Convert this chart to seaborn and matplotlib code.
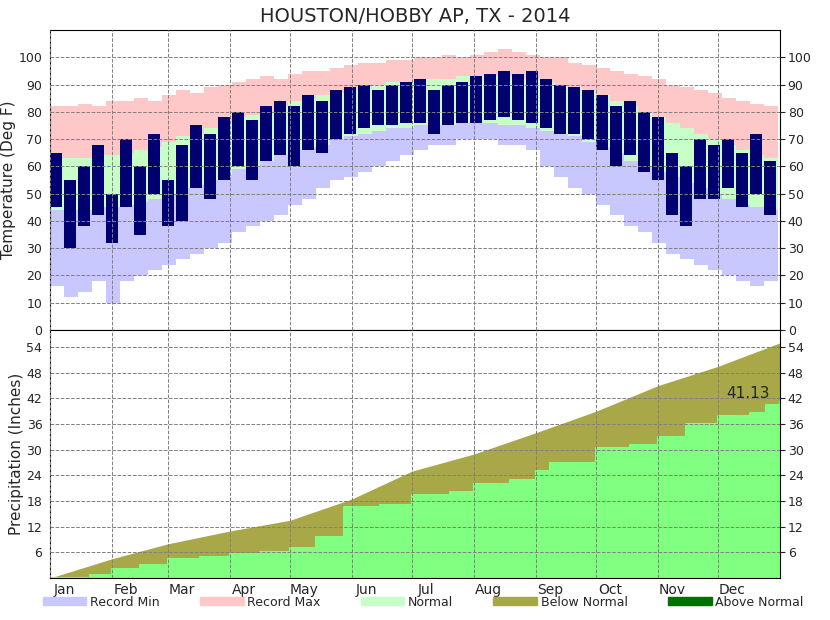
import numpy as np
import seaborn as sns
import matplotlib.pyplot as plt
from matplotlib.patches import Patch

# weekly values (deg F)
weeks = np.arange(52) * 7
rec_max = [82, 82, 83, 82, 84, 84, 85, 84, 86, 88, 87, 89, 90, 91, 92, 93, 92, 94, 95, 95, 96, 97,
           98, 98, 99, 99, 100, 100, 101, 100, 101, 102, 103, 102, 101, 100, 100, 98, 97, 96, 95, 94,
           93, 92, 90, 89, 88, 87, 85, 84, 83, 82]
rec_min = [16, 12, 14, 18, 10, 18, 20, 22, 24, 26, 28, 30, 32, 36, 38, 40, 42, 46, 48, 52, 55, 56,
           58, 60, 62, 64, 66, 68, 68, 70, 70, 70, 68, 68, 66, 60, 56, 52, 50, 46, 42, 38,
           36, 32, 28, 26, 24, 22, 20, 18, 16, 18]
norm_hi = [63, 63, 63, 64, 64, 65, 66, 67, 69, 71, 72, 74, 76, 78, 79, 80, 82, 84, 85, 86, 87, 88,
           89, 90, 91, 91, 92, 92, 92, 93, 93, 93, 93, 92, 92, 91, 90, 89, 88, 86, 84, 82,
           80, 78, 76, 74, 72, 70, 68, 66, 64, 63]
norm_lo = [44, 44, 44, 45, 45, 46, 47, 48, 50, 52, 53, 55, 57, 59, 60, 62, 64, 66, 67, 68, 70, 71,
           72, 73, 74, 74, 75, 75, 75, 76, 76, 76, 75, 75, 74, 73, 72, 71, 69, 67, 65, 62,
           60, 58, 56, 54, 52, 50, 48, 46, 45, 44]
act_hi = [65, 55, 60, 68, 50, 70, 60, 72, 55, 68, 75, 72, 78, 80, 77, 82, 84, 82, 86, 84, 88, 89,
          90, 88, 90, 91, 92, 88, 90, 91, 93, 94, 95, 94, 95, 92, 90, 89, 88, 86, 82, 84, 80,
          78, 65, 60, 70, 68, 70, 65, 72, 62]
act_lo = [45, 30, 38, 42, 32, 45, 35, 50, 38, 40, 52, 48, 55, 60, 55, 62, 64, 60, 66, 65, 70, 72,
          74, 75, 75, 76, 76, 72, 75, 76, 76, 77, 78, 77, 76, 74, 72, 72, 70, 66, 60, 64, 58,
          55, 42, 38, 48, 48, 52, 45, 50, 42]

# cumulative precipitation (inches)
norm_day = [0, 31, 59, 90, 120, 151, 181, 212, 243, 273, 304, 334, 365]
norm_pcp = [0, 4.5, 8, 11, 13.5, 18.5, 25, 29, 34, 39, 45, 49.5, 55]
act_day = [0, 20, 31, 45, 59, 75, 90, 105, 120, 133, 147, 165, 181, 200, 212, 230, 243, 250, 273,
           290, 304, 318, 334, 350, 358, 365]
act_pcp = [0, 0.8, 2, 3, 4.5, 5, 5.5, 6, 7, 9.5, 16.5, 17, 19.5, 20, 22, 23, 25, 27, 30.5, 31,
           33, 36, 38, 38.5, 40.5, 41.13]

months = ['Jan', 'Feb', 'Mar', 'Apr', 'May', 'Jun', 'Jul', 'Aug', 'Sep', 'Oct', 'Nov', 'Dec']
month_starts = [0, 31, 59, 90, 120, 151, 181, 212, 243, 273, 304, 334]

sns.set_style('white')
plt.rcParams['font.family'] = 'DejaVu Sans'
fig = plt.figure(figsize=(8.3, 6.2), dpi=100)
ax1 = fig.add_axes([50 / 830, 1 - 330 / 620, 730 / 830, 300 / 620])
ax2 = fig.add_axes([50 / 830, 1 - 578 / 620, 730 / 830, 248 / 620], sharex=ax1)

ax1.bar(weeks, np.array(rec_max) - np.array(rec_min), bottom=rec_min, width=7, align='edge',
        color='#ffc8c8', linewidth=0)
ax1.bar(weeks, np.array(norm_hi) - np.array(rec_min), bottom=rec_min, width=7, align='edge',
        color='#c8c8ff', linewidth=0)
ax1.bar(weeks, np.array(norm_hi) - np.array(norm_lo), bottom=norm_lo, width=7, align='edge',
        color='#c8ffc8', linewidth=0)
ax1.bar(weeks, np.array(act_hi) - np.array(act_lo), bottom=act_lo, width=6, align='edge',
        color='#000070', linewidth=0)
ax1.set_ylim(0, 110)
ax1.set_yticks(range(0, 101, 10))
ax1.set_ylabel('Temperature (Deg F)', fontsize=11, labelpad=2)
ax1.set_title('HOUSTON/HOBBY AP, TX - 2014', fontsize=14)
ax1.tick_params(labelright=True, right=True, labelbottom=False, labelsize=9, pad=2)

ax2.fill_between(norm_day, norm_pcp, color='#a8a848', linewidth=0)
ax2.fill_between(act_day, act_pcp, step='post', color='#80ff80', linewidth=0)
sns.lineplot(x=act_day, y=act_pcp, drawstyle='steps-post', color='#80ff80', ax=ax2)
ax2.text(338, 42, '41.13', fontsize=11)
ax2.set_ylim(0, 58)
ax2.set_yticks(range(6, 55, 6))
ax2.set_ylabel('Precipitation (Inches)', fontsize=11, labelpad=2)
ax2.tick_params(labelright=True, right=True, labelsize=9, pad=2)
ax2.set_xlim(0, 365)
ax2.set_xticks(month_starts)
ax2.set_xticklabels([])
ax2.set_xticks([d + 7 for d in month_starts], minor=True)
ax2.set_xticklabels(months, minor=True)
ax2.tick_params(axis='x', which='both', length=0, labelsize=10)

for ax in (ax1, ax2):
    ax.grid(True, which='major', color='gray', linestyle='--', linewidth=0.7)
    ax.set_axisbelow(False)
    for s in ax.spines.values():
        s.set_color('black')

handles = [Patch(color='#c8c8ff', label='Record Min'), Patch(color='#ffc8c8', label='Record Max'),
           Patch(color='#c8ffc8', label='Normal'), Patch(color='#a8a848', label='Below Normal'),
           Patch(color='#007000', label='Above Normal')]
fig.legend(handles=handles, loc='lower center', ncol=5, frameon=False, fontsize=9,
           bbox_to_anchor=(0.51, 0.0), handlelength=3.5, handleheight=0.6, handletextpad=0.3,
           columnspacing=3.2)
fig.savefig('out.png', dpi=100)
